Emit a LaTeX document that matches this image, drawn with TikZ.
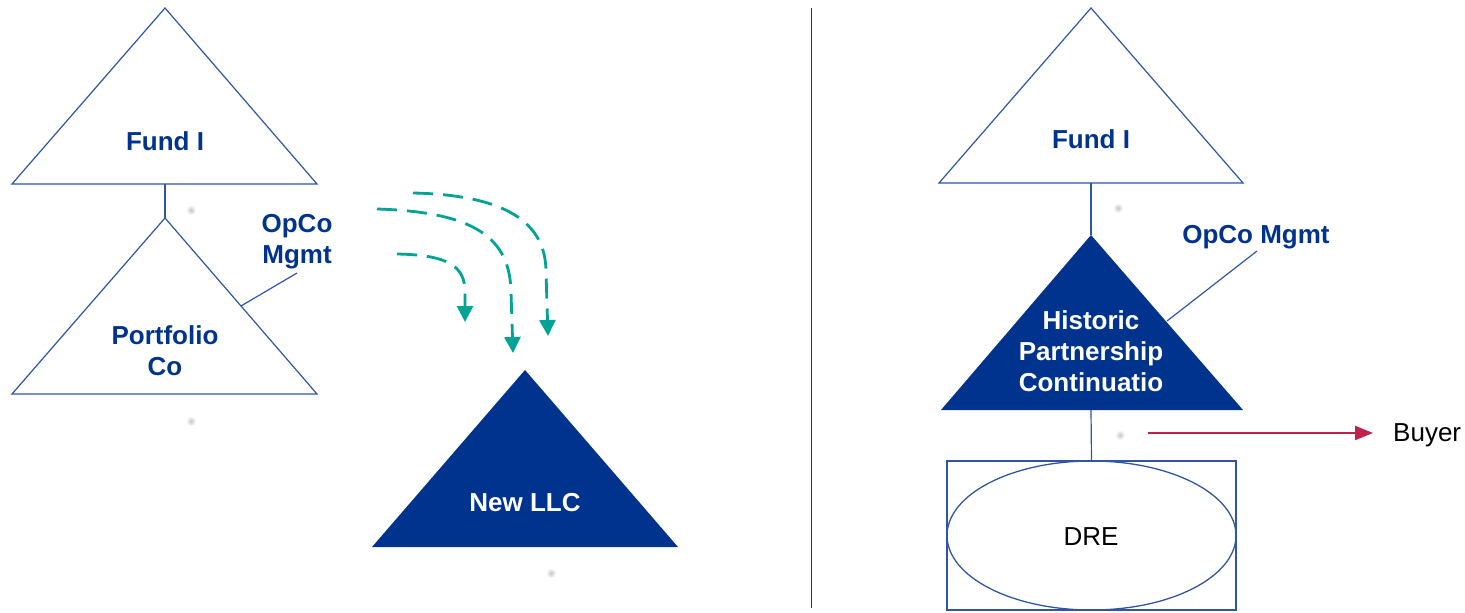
\documentclass[tikz,border=0pt]{standalone}
\usepackage{fontspec}
\setmainfont{Liberation Sans}
\usetikzlibrary{arrows.meta}
\definecolor{navy}{RGB}{0,51,141}
\definecolor{edgeblue}{RGB}{47,85,164}
\definecolor{teal}{RGB}{0,163,150}
\definecolor{crimson}{RGB}{192,32,74}
\tikzset{
  lbl/.style={font=\fontsize{26}{31}\selectfont\bfseries, text=navy, align=center, inner sep=0pt},
  lblw/.style={font=\fontsize{26}{31}\selectfont\bfseries, text=white, align=center, inner sep=0pt},
  plain/.style={font=\fontsize{26}{31}\selectfont, text=black, inner sep=0pt},
  tri/.style={draw=edgeblue, line width=1.2pt, line join=miter, fill=white},
  trifill/.style={fill=navy},
  link/.style={draw=edgeblue, line width=1.2pt},
  flow/.style={draw=teal, line width=2.8pt, dash pattern=on 20pt off 10pt, -{Triangle[width=16pt,length=16pt]}},
  sale/.style={draw=crimson, line width=2.2pt, -{Triangle[width=14pt,length=18pt]}},
  haze/.style={inner color=black!22, outer color=white}
}
\begin{document}
\begin{tikzpicture}[x=1pt,y=-1pt]
\useasboundingbox[fill=white] (0,0) rectangle (1465,613);

% ---------- left side: before ----------
\coordinate (fundA) at (165,8);
\coordinate (fundAbase) at (165,184);
\draw[tri] (fundA) -- (317,184) -- (12,184) -- cycle;
\node[lbl] (fundAtxt) at (165,141) {Fund I};

\coordinate (portA) at (165,218);
\draw[tri] (portA) -- (317,394) -- (12,394) -- cycle;
\node[lbl] (porttxt) at (165,351) {Portfolio\\Co};
\draw[link] (fundAbase) -- (portA);

\node[lbl] (opcoA) at (297,242) {OpCo\\Mgmt};
\coordinate (opcoAend) at (297,273);
\coordinate (portEdge) at (241,306);
\draw[link] (opcoAend) -- (portEdge);

% transfer arrows into the new entity
\coordinate (f1s) at (397,254);
\coordinate (f1e) at (465,322);
\coordinate (f2s) at (377,209);
\coordinate (f2e) at (513,353);
\coordinate (f3s) at (413,193);
\coordinate (f3e) at (548,336);
\draw[flow] (f1s) .. controls (448,255) and (465,266) .. (465,292) -- (f1e);
\draw[flow] (f2s) .. controls (475,212) and (510,238) .. (511,292) -- (f2e);
\draw[flow] (f3s) .. controls (505,195) and (546,222) .. (546,272) -- (f3e);

\coordinate (newllc) at (525,370);
\fill[trifill] (newllc) -- (678,547) -- (372,547) -- cycle;
\node[lblw] (newllctxt) at (525,503) {New LLC};

% faint markers
\shade[haze] (191,210) circle (5);
\shade[haze] (191,421) circle (5);
\shade[haze] (551,573) circle (5);

% ---------- divider ----------
\coordinate (divtop) at (811,8);
\coordinate (divbot) at (811,608);
\draw[black!80, line width=1pt] (divtop) -- (divbot);

% ---------- right side: after ----------
\coordinate (fundB) at (1091,8);
\coordinate (fundBbase) at (1091,183);
\draw[tri] (fundB) -- (1243,183) -- (939,183) -- cycle;
\node[lbl] (fundBtxt) at (1091,139) {Fund I};

\coordinate (hist) at (1091,235);
\coordinate (histbase) at (1091,410);
\fill[trifill] (hist) -- (1243,410) -- (941,410) -- cycle;
\node[lblw] (histtxt) at (1091,351) {Historic\\Partnership\\Continuatio};
\draw[link] (fundBbase) -- (hist);

\node[lbl] (opcoB) at (1256,237) {OpCo Mgmt};
\coordinate (opcoBend) at (1257,251);
\coordinate (histEdge) at (1167,321);
\draw[link] (opcoBend) -- (histEdge);

\node[draw=edgeblue, line width=1.3pt, minimum width=289pt, minimum height=149pt, inner sep=0pt] (drebox) at (1091.5,535.5) {};
\draw[edgeblue, line width=1.3pt] (drebox.center) ellipse (144.5 and 74.5);
\node[plain] (dre) at (1091,537) {DRE};
\draw[link] (histbase) -- (drebox.north);

\node[plain, anchor=west] (buyer) at (1393,435) {Buyer};
\coordinate (salestart) at (1148,433);
\coordinate (saleend) at (1373,433);
\draw[sale] (salestart) -- (saleend);

\shade[haze] (1118,208) circle (5);
\shade[haze] (1120,435) circle (5);
\end{tikzpicture}
\end{document}
